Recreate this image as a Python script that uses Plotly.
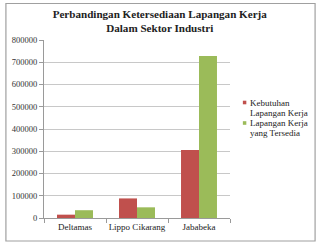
import plotly.graph_objects as go

categories = ["Deltamas", "Lippo Cikarang", "Jababeka"]
kebutuhan = [15000, 88000, 306000]
tersedia = [35000, 48000, 728000]
series_lines = [["Kebutuhan", "Lapangan Kerja"], ["Lapangan Kerja", "yang Tersedia"]]
series_names = ["Kebutuhan Lapangan Kerja", "Lapangan Kerja yang Tersedia"]
series_colors = ["#C0504D", "#9BBB59"]
y_ticks = [0, 100000, 200000, 300000, 400000, 500000, 600000, 700000, 800000]

font_family = "Liberation Serif, Times New Roman, serif"

fig = go.Figure()
fig.add_trace(go.Bar(x=categories, y=kebutuhan, name=series_names[0], showlegend=False,
                     marker=dict(color=series_colors[0], line=dict(width=0))))
fig.add_trace(go.Bar(x=categories, y=tersedia, name=series_names[1], showlegend=False,
                     marker=dict(color=series_colors[1], line=dict(width=0))))

L, R, T, B = 42, 96, 40, 26
W, H = 326, 244
pw, ph = W - L - R, H - T - B

def px_to_paper_x(px):
    return (px - L) / pw

def px_to_paper_y(py):
    return (H - B - py) / ph

shapes = [dict(type="rect", xref="paper", yref="paper",
               x0=px_to_paper_x(3.5), x1=px_to_paper_x(316),
               y0=px_to_paper_y(241), y1=px_to_paper_y(3.5),
               line=dict(color="#a0a0a0", width=1.2), fillcolor="rgba(0,0,0,0)")]
annotations = []
legend_first_line = [102.5, 123]
line_step = 10.3
for lines, color, y0 in zip(series_lines, series_colors, legend_first_line):
    shapes.append(dict(type="rect", xref="paper", yref="paper",
                       x0=px_to_paper_x(243), x1=px_to_paper_x(246.5),
                       y0=px_to_paper_y(y0 + 1.8), y1=px_to_paper_y(y0 - 1.8),
                       line=dict(width=0), fillcolor=color))
    for i, txt in enumerate(lines):
        annotations.append(dict(text=txt, xref="paper", yref="paper",
                                x=px_to_paper_x(248), y=px_to_paper_y(y0 + i * line_step),
                                xanchor="left", yanchor="middle", align="left", showarrow=False,
                                font=dict(family=font_family, size=9, color="#222222")))

fig.update_layout(
    width=W, height=H,
    margin=dict(l=L, r=R, t=T, b=B),
    paper_bgcolor="white", plot_bgcolor="white",
    font=dict(family=font_family, size=9, color="#222222"),
    barmode="group", bargap=0.42, bargroupgap=0,
    title=dict(text="<b>Perbandingan Ketersediaan Lapangan Kerja<br>Dalam Sektor Industri</b>",
               x=0.49, xanchor="center", y=1 - 17.5 / H, yanchor="middle",
               xref="container", yref="container",
               font=dict(family=font_family, size=11.1, color="#222222")),
    xaxis=dict(showline=True, linecolor="#9a9a9a", linewidth=1,
               ticks="outside", tickson="boundaries", ticklen=4, tickcolor="#9a9a9a",
               tickangle=0,
               tickfont=dict(family=font_family, size=9, color="#222222"),
               showgrid=False, fixedrange=True),
    yaxis=dict(range=[0, 800000], tickvals=y_ticks, ticktext=[str(v) for v in y_ticks],
               showline=True, linecolor="#9a9a9a", linewidth=1,
               ticks="outside", ticklen=4, tickcolor="#9a9a9a",
               showgrid=True, gridcolor="#c8c8c8", gridwidth=1,
               tickfont=dict(family=font_family, size=8.5, color="#333333"),
               zeroline=False, fixedrange=True),
    shapes=shapes,
    annotations=annotations,
    showlegend=False,
)

fig.write_html("out.html")
